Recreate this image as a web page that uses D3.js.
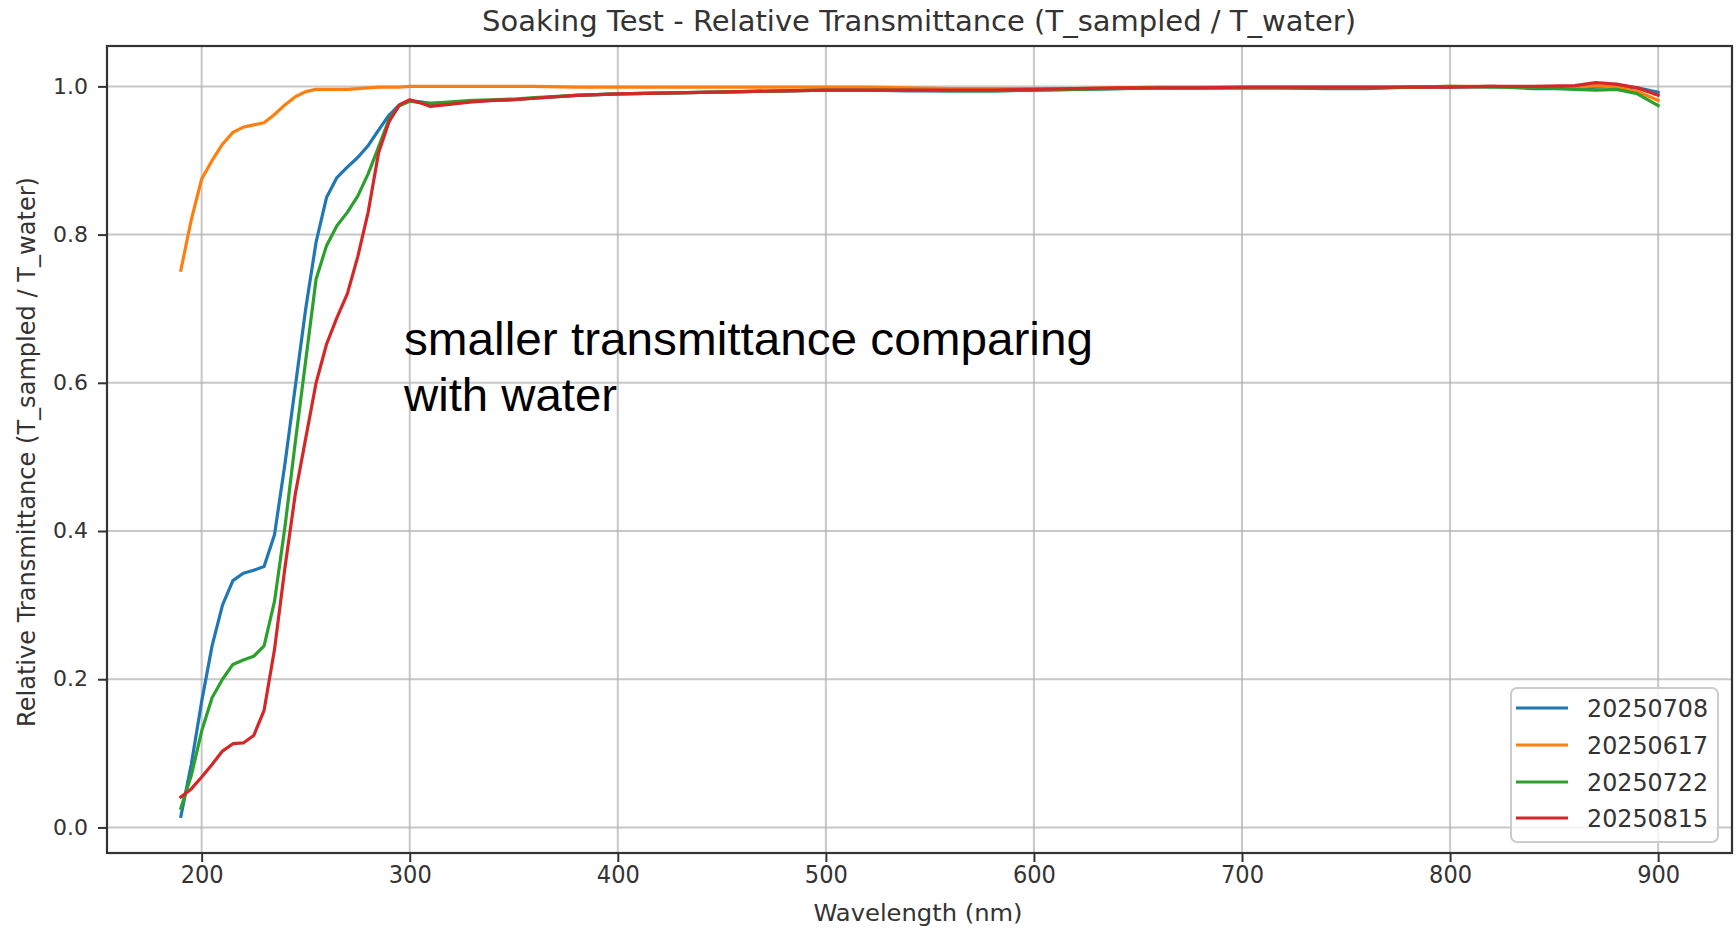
<!DOCTYPE html>
<html>
<head>
<meta charset="utf-8">
<script src="https://cdn.jsdelivr.net/npm/d3@7"></script>
<style>
html, body { margin: 0; padding: 0; background: #fff; }
svg { display: block; }
</style>
</head>
<body>
<svg id="chart" width="1736" height="929"></svg>
<script>
const wavelengths = [190,195,200,205,210,215,220,225,230,235,240,245,250,255,260,265,270,275,280,285,290,295,300,305,310,320,330,340,350,360,380,400,420,440,460,480,500,520,540,560,580,600,620,640,660,680,700,720,740,760,780,800,820,840,860,870,880,890,900];

const s20250708 = [0.015,0.085,0.17,0.245,0.30,0.333,0.343,0.347,0.352,0.395,0.49,0.595,0.70,0.79,0.85,0.877,0.891,0.904,0.92,0.941,0.961,0.975,0.981,0.979,0.977,0.978,0.980,0.981,0.982,0.984,0.988,0.990,0.991,0.992,0.993,0.994,0.995,0.995,0.994,0.994,0.994,0.995,0.996,0.997,0.998,0.998,0.998,0.998,0.997,0.997,0.999,0.999,1.0,0.997,0.997,0.999,1.0,0.998,0.992];

const s20250617 = [0.752,0.82,0.875,0.90,0.922,0.938,0.945,0.948,0.951,0.962,0.975,0.986,0.993,0.996,0.996,0.996,0.996,0.997,0.998,0.999,0.999,0.999,1.0,1.0,1.0,1.0,1.0,1.0,1.0,1.0,0.999,0.999,0.999,0.999,0.999,0.999,0.999,0.999,0.998,0.997,0.997,0.997,0.997,0.998,0.999,0.999,0.999,0.999,0.999,0.999,0.999,1.0,1.0,0.999,0.999,1.001,0.999,0.993,0.981];

const s20250722 = [0.026,0.07,0.13,0.175,0.20,0.22,0.226,0.231,0.245,0.305,0.405,0.52,0.63,0.74,0.785,0.812,0.83,0.852,0.882,0.918,0.955,0.974,0.98,0.978,0.977,0.979,0.981,0.982,0.983,0.985,0.988,0.990,0.991,0.992,0.993,0.994,0.995,0.995,0.995,0.994,0.994,0.995,0.996,0.997,0.998,0.998,0.998,0.998,0.998,0.998,0.999,1.0,0.999,0.999,0.996,0.995,0.996,0.99,0.974];

const s20250815 = [0.041,0.052,0.068,0.085,0.103,0.113,0.114,0.124,0.158,0.24,0.35,0.45,0.525,0.60,0.652,0.688,0.72,0.77,0.83,0.91,0.952,0.975,0.982,0.978,0.973,0.976,0.979,0.981,0.982,0.984,0.988,0.990,0.991,0.992,0.993,0.994,0.995,0.995,0.995,0.995,0.995,0.996,0.997,0.998,0.998,0.998,0.999,0.999,0.999,0.999,0.999,0.999,1.0,1.0,1.001,1.005,1.003,0.998,0.988];

const seriesNames = ["20250708","20250617","20250722","20250815"];
const seriesColors = ["#1f77b4","#ff7f0e","#2ca02c","#d62728"];
const seriesValues = [s20250708, s20250617, s20250722, s20250815];

const xTicks = [200,300,400,500,600,700,800,900];
const yTicks = [0.0,0.2,0.4,0.6,0.8,1.0];

const titleText = "Soaking Test - Relative Transmittance (T_sampled / T_water)";
const xLabel = "Wavelength (nm)";
const yLabel = "Relative Transmittance (T_sampled / T_water)";
const noteLines = ["smaller transmittance comparing", "with water"];

const svg = d3.select("#chart");
const L = 107, R = 1732, T = 46, B = 853;

const x = d3.scaleLinear().domain([154.5, 935.5]).range([L, R]);
const y = d3.scaleLinear().domain([-0.0345, 1.0545]).range([B, T]);

// grid
const grid = svg.append("g");
grid.selectAll(".gx").data(xTicks).join("line")
  .attr("x1", d => x(d)).attr("x2", d => x(d)).attr("y1", T).attr("y2", B)
  .attr("stroke", "#b0b0b0").attr("stroke-opacity", 0.7).attr("stroke-width", 2);
grid.selectAll(".gy").data(yTicks).join("line")
  .attr("x1", L).attr("x2", R).attr("y1", d => y(d)).attr("y2", d => y(d))
  .attr("stroke", "#b0b0b0").attr("stroke-opacity", 0.7).attr("stroke-width", 2);

// lines
const plot = svg.append("g");
seriesValues.forEach((vals, i) => {
  const pts = wavelengths.map((w, j) => [w, vals[j]]);
  plot.append("path")
    .datum(pts)
    .attr("fill", "none")
    .attr("stroke", seriesColors[i])
    .attr("stroke-width", 3.2)
    .attr("stroke-linejoin", "round")
    .attr("stroke-linecap", "square")
    .attr("d", d3.line().x(d => x(d[0])).y(d => y(d[1])));
});

// axes
const xAxis = d3.axisBottom(x).tickValues(xTicks).tickSize(9).tickPadding(7).tickFormat(d3.format("d"));
const yAxis = d3.axisLeft(y).tickValues(yTicks).tickSize(9).tickPadding(9).tickFormat(d3.format(".1f"));

const gx = svg.append("g").attr("transform", `translate(0,${B})`).call(xAxis);
gx.select(".domain").remove();
gx.selectAll(".tick line").attr("stroke", "#333").attr("stroke-width", 2);
gx.selectAll(".tick text")
  .attr("font-family", "DejaVu Sans").attr("font-size", 24).attr("fill", "#333")
  .attr("dy", "0.71em").attr("y", 13)
  .attr("textLength", 43).attr("lengthAdjust", "spacingAndGlyphs");

const gy = svg.append("g").attr("transform", `translate(${L},0)`).call(yAxis);
gy.select(".domain").remove();
gy.selectAll(".tick line").attr("stroke", "#333").attr("stroke-width", 2);
gy.selectAll(".tick text")
  .attr("font-family", "DejaVu Sans").attr("font-size", 21).attr("fill", "#333")
  .attr("x", -19)
  .attr("textLength", 35).attr("lengthAdjust", "spacingAndGlyphs");

// spines
svg.append("rect").attr("x", L).attr("y", T).attr("width", R - L).attr("height", B - T)
  .attr("fill", "none").attr("stroke", "#333").attr("stroke-width", 2.2);

// title
svg.append("text").attr("x", 919).attr("y", 31).attr("text-anchor", "middle")
  .attr("font-family", "DejaVu Sans").attr("font-size", 28).attr("fill", "#333")
  .attr("textLength", 874).attr("lengthAdjust", "spacingAndGlyphs")
  .text(titleText);

// x label
svg.append("text").attr("x", 918).attr("y", 921).attr("text-anchor", "middle")
  .attr("font-family", "DejaVu Sans").attr("font-size", 23).attr("fill", "#333")
  .attr("textLength", 209).attr("lengthAdjust", "spacingAndGlyphs")
  .text(xLabel);

// y label
svg.append("text").attr("transform", "translate(35,452) rotate(-90)")
  .attr("text-anchor", "middle")
  .attr("font-family", "DejaVu Sans").attr("font-size", 24).attr("fill", "#333")
  .attr("textLength", 550).attr("lengthAdjust", "spacingAndGlyphs")
  .text(yLabel);

// annotation
const noteY = [355, 411];
const noteW = [689, 213];
svg.append("g").selectAll("text").data(noteLines).join("text")
  .attr("x", 404).attr("y", (d, i) => noteY[i])
  .attr("font-family", "Liberation Sans, Arial, sans-serif").attr("font-size", 47).attr("fill", "#000")
  .attr("textLength", (d, i) => noteW[i]).attr("lengthAdjust", "spacingAndGlyphs")
  .text(d => d);

// legend
const lg = svg.append("g");
lg.append("rect").attr("x", 1511).attr("y", 688).attr("width", 207).attr("height", 154)
  .attr("rx", 6).attr("fill", "#fff").attr("fill-opacity", 0.8)
  .attr("stroke", "#cccccc").attr("stroke-width", 2);
const rowY = [708, 745, 782, 818];
seriesNames.forEach((name, i) => {
  lg.append("line").attr("x1", 1516).attr("x2", 1568).attr("y1", rowY[i]).attr("y2", rowY[i])
    .attr("stroke", seriesColors[i]).attr("stroke-width", 3.2);
  lg.append("text").attr("x", 1587).attr("y", rowY[i] + 9)
    .attr("font-family", "DejaVu Sans").attr("font-size", 24).attr("fill", "#333")
    .attr("textLength", 121).attr("lengthAdjust", "spacingAndGlyphs")
    .text(name);
});
</script>
</body>
</html>
